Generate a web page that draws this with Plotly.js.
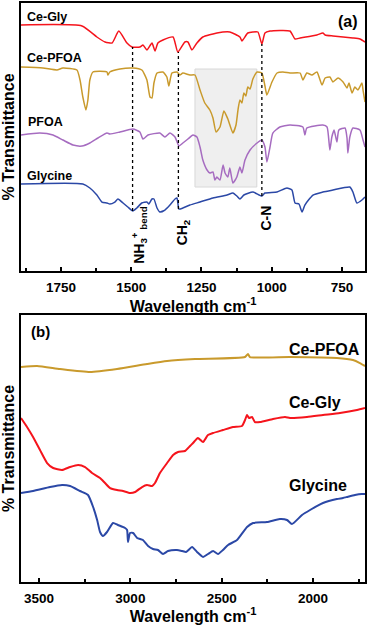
<!DOCTYPE html>
<html><head><meta charset="utf-8">
<script src="https://cdn.plot.ly/plotly-3.0.1.min.js"></script>
<style>html,body{margin:0;padding:0;background:#fff;}#chart{width:368px;height:625px;}</style>
</head><body><div id="chart"></div>
<script>
// ---------- Panel (a): fingerprint region ----------
const ceGlyA_wn = [1892,1675,1622,1593,1568,1544,1515,1497,1469,1458,1444,1426,1415,1405,1387,1351,1334,1309,1298,1284,1266,1245,1195,1149,1113,1106,1085,1067,1049,1035,1024,1006,935,917,899,839,818,810,782,746,711,686,668];
const ceGlyA_T  = [246,245,234,229,228,240,228,224,224,226,221,228,220,228,231,234,219,229,229,221,228,234,238,239,234,230,238,239,239,227,238,240,240,232,233,236,238,236,235,234,233,232,229];

const cePfoaA_wn = [1892,1814,1764,1743,1693,1682,1672,1661,1654,1647,1636,1586,1583,1576,1540,1494,1462,1444,1433,1426,1419,1408,1387,1373,1366,1355,1337,1327,1316,1291,1273,1255,1238,1220,1209,1198,1184,1170,1156,1138,1127,1120,1113,1106,1099,1092,1085,1077,1067,1052,1035,1024,1017,999,981,960,935,899,889,875,857,839,821,810,793,782,764,746,732,725,714,704,693,679,675,668];
const cePfoaA_T  = [204,203,201,203,201,191,174,161,171,191,199,199,196,199,202,203,201,191,174,173,188,198,199,194,185,198,199,196,198,196,196,181,168,161,153,139,144,160,152,138,146,161,171,168,178,175,184,182,192,199,198,185,176,189,198,199,198,198,191,198,196,199,186,193,194,189,193,189,183,188,178,184,181,188,181,169];

const pfoaA_wn = [1892,1825,1778,1743,1707,1675,1647,1618,1586,1576,1540,1494,1469,1458,1440,1398,1380,1362,1344,1330,1316,1298,1280,1266,1255,1245,1230,1220,1209,1202,1195,1184,1173,1166,1156,1149,1138,1124,1113,1106,1095,1077,1052,1035,1024,1017,1006,996,971,935,889,882,875,818,803,793,786,778,768,761,739,732,729,722,711,686,675,668];
const pfoaA_T  = [136,138,136,131,126,125,128,133,138,137,139,142,139,132,136,138,134,138,134,125,128,132,136,134,124,111,101,98,99,91,94,91,106,98,94,103,88,94,104,98,111,121,128,131,124,109,124,138,144,146,144,136,143,146,144,121,134,141,129,141,143,133,118,134,143,141,131,124];

const glyA_wn = [1892,1672,1647,1622,1604,1586,1576,1558,1547,1529,1512,1494,1480,1462,1444,1437,1426,1419,1408,1398,1380,1362,1344,1337,1330,1316,1291,1255,1209,1159,1138,1124,1113,1099,1067,1035,1024,981,946,928,917,903,892,882,853,818,782,722,711,697,679,668];
const glyA_T  = [87,87,83,76,69,68,67,69,72,68,64,60,63,68,69,67,72,72,63,59,61,66,72,73,62,63,66,69,73,76,78,75,72,76,79,75,78,79,83,81,68,67,59,66,76,79,81,84,79,68,71,74];

// marker lines (wavenumber, bottom T, top T)
const markWn   = [1495, 1332, 1035];
const markLow  = [60, 62, 75];
const markHigh = [224, 219, 227];
const markText = ['NH<sub>3</sub><sup>+</sup><sub> bend</sub>', 'CH<sub>2</sub>', 'C-N'];
// shaded region
const shadeWn = [1273, 1053];
const shadeT  = [84, 202];

// ---------- Panel (b): high-wavenumber region ----------
const cePfoaB_wn = [3599,3511,3385,3221,3073,2909,2799,2646,2372,2356,2345,2126,1869,1781,1743,1715];
const cePfoaB_T  = [215,216,213,210,213,218,221,223,225,228,225,225,224,222,219,216];

const ceGlyB_wn = [3599,3566,3533,3495,3456,3423,3374,3330,3286,3248,3210,3166,3139,3111,3073,3040,3002,2974,2936,2909,2881,2865,2838,2799,2766,2739,2701,2673,2657,2630,2602,2575,2547,2493,2438,2389,2372,2361,2350,2334,2318,2290,2219,2153,2126,2033,1945,1852,1759,1715];
const ceGlyB_T  = [164,155,145,132,119,114,112,115,117,115,109,104,99,94,92,91,89,90,95,97,96,99,109,119,127,130,131,136,139,144,140,147,149,152,155,156,162,167,164,165,160,160,163,165,164,165,167,169,172,174];

const glyB_wn = [3599,3533,3440,3374,3330,3276,3232,3204,3182,3166,3150,3128,3095,3068,3029,3018,3013,3002,2985,2963,2931,2903,2876,2849,2821,2794,2745,2717,2695,2662,2635,2602,2575,2547,2520,2493,2465,2416,2361,2328,2252,2181,2142,2115,2060,2016,1945,1869,1836,1814,1770,1732,1715];
const glyB_T  = [89,91,95,97,96,91,87,75,62,50,46,50,59,57,54,52,40,49,49,44,42,36,33,32,28,31,32,31,30,35,30,25,28,31,28,32,37,42,55,59,60,63,62,58,67,72,79,83,84,85,87,88,88];

const labelsA = ['Ce-Gly', 'Ce-PFOA', 'PFOA', 'Glycine'];
const labelsB = ['Ce-PFOA', 'Ce-Gly', 'Glycine'];

// ---------- styling ----------
const C_RED = '#f5141c', C_GOLD = '#c99a2c', C_PURP = '#a66cc0', C_BLUE = '#2b48a6';
const FAM = 'Liberation Sans, Arial, sans-serif';
const bold = (s) => ({family: FAM, size: s, color: '#000', weight: 'bold'});

function tr(x, y, color, xa, ya, w) {
  return {x: x, y: y, type: 'scatter', mode: 'lines', xaxis: xa, yaxis: ya,
          line: {color: color, width: w, shape: 'spline', smoothing: 0.5},
          hoverinfo: 'skip', showlegend: false};
}

const data = [
  tr(ceGlyA_wn, ceGlyA_T, C_RED, 'x', 'y', 1.5),
  tr(cePfoaA_wn, cePfoaA_T, C_GOLD, 'x', 'y', 1.5),
  tr(pfoaA_wn, pfoaA_T, C_PURP, 'x', 'y', 1.5),
  tr(glyA_wn, glyA_T, C_BLUE, 'x', 'y', 1.5),
  tr(cePfoaB_wn, cePfoaB_T, C_GOLD, 'x2', 'y2', 2),
  tr(ceGlyB_wn, ceGlyB_T, C_RED, 'x2', 'y2', 2),
  tr(glyB_wn, glyB_T, C_BLUE, 'x2', 'y2', 2)
];

const shapes = [{type: 'rect', xref: 'x', yref: 'y', x0: shadeWn[0], x1: shadeWn[1], y0: shadeT[0], y1: shadeT[1],
                 fillcolor: '#efefef', line: {color: '#d8d8d8', width: 1}, layer: 'below'}];
markWn.forEach((w, i) => shapes.push({type: 'line', xref: 'x', yref: 'y', x0: w, x1: w, y0: markLow[i], y1: markHigh[i],
                 line: {color: '#000', width: 1.3, dash: 'dot'}}));

const annotations = [];
const posA = [[0.0116, 0.9758], [0.0116, 0.9050], [0.0145, 0.7945], [0.0116, 0.7012]];
labelsA.forEach((t, i) => annotations.push({text: t, xref: 'paper', yref: 'paper', x: posA[i][0], y: posA[i][1],
                 xanchor: 'left', yanchor: 'middle', showarrow: false, font: bold(12.5)}));
const posB = [[0.7733, 0.4024], [0.7733, 0.3092], [0.7733, 0.1675]];
labelsB.forEach((t, i) => annotations.push({text: t, xref: 'paper', yref: 'paper', x: posB[i][0], y: posB[i][1],
                 xanchor: 'left', yanchor: 'middle', showarrow: false, font: bold(16)}));
annotations.push({text: '(a)', xref: 'paper', yref: 'paper', x: 0.9855, y: 0.9689, xanchor: 'right', yanchor: 'middle', showarrow: false, font: bold(16)});
annotations.push({text: '(b)', xref: 'paper', yref: 'paper', x: 0.0233, y: 0.4318, xanchor: 'left', yanchor: 'middle', showarrow: false, font: bold(15)});
const markPos = [[0.345, 0.599], [0.472, 0.6045], [0.711, 0.6287]];
markText.forEach((t, i) => annotations.push({text: t, xref: 'paper', yref: 'paper', x: markPos[i][0], y: markPos[i][1],
                 xanchor: 'center', yanchor: 'middle', textangle: -90, showarrow: false, font: bold(14)}));

function xax(range, tick0, dtick, minor, anchor) {
  return {anchor: anchor, domain: [0, 1], range: range, tickmode: 'linear', tick0: tick0, dtick: dtick,
          ticks: 'inside', ticklen: 4, tickwidth: 1.5, tickcolor: '#000',
          minor: {dtick: minor, ticks: 'inside', ticklen: 3, tickwidth: 1.5, tickcolor: '#000', showgrid: false},
          showline: true, linewidth: 2, linecolor: '#000', mirror: true, showgrid: false, zeroline: false,
          tickfont: bold(13.5), ticklabelstandoff: 3,
          title: {text: 'Wavelength cm<sup>-1</sup>', font: bold(16), standoff: 0}, automargin: false};
}
function yax(domain, range, anchor) {
  return {anchor: anchor, domain: domain, range: range, showticklabels: false, ticks: '',
          showline: true, linewidth: 2, linecolor: '#000', mirror: true, showgrid: false, zeroline: false,
          title: {text: '% Transmittance', font: bold(16), standoff: 4}, automargin: false};
}

const layout = {
  width: 368, height: 625, margin: {l: 21, r: 3, t: 3, b: 43},
  paper_bgcolor: '#fff', plot_bgcolor: '#fff', showlegend: false,
  font: {family: FAM, color: '#000'},
  xaxis: xax([1892, 668], 1750, 250, 125, 'y'),
  yaxis: yax([0.5371, 1], [0, 268], 'x'),
  xaxis2: xax([3599, 1715], 2000, 500, 250, 'y2'),
  yaxis2: yax([0, 0.4611], [0, 267], 'x2'),
  shapes: shapes, annotations: annotations
};

Plotly.newPlot('chart', data, layout, {displayModeBar: false});
</script></body></html>
